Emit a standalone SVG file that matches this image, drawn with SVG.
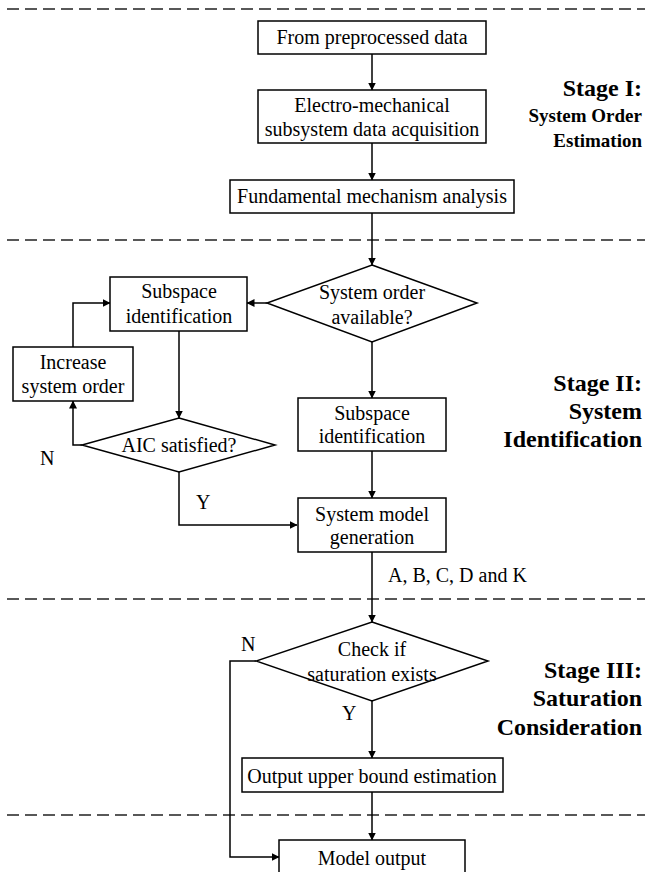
<svg xmlns="http://www.w3.org/2000/svg" width="645" height="872" viewBox="0 0 645 872">
<defs>
<style>
.box{fill:#fff;stroke:#000;stroke-width:1.5}
text{font-family:'Liberation Serif','Times New Roman',Times,'DejaVu Serif',serif;fill:#000}
.t{font-size:20px;text-anchor:middle}
.lbl{font-size:20px}
.stg{font-weight:bold;font-size:24px;text-anchor:end}
.stgs{font-weight:bold;font-size:19px;text-anchor:end}
.dash{stroke:#222;stroke-width:1.6;stroke-dasharray:12 6;fill:none}
.c{stroke:#000;stroke-width:1.5;fill:none}
</style>
<marker id="ah" markerWidth="8" markerHeight="8" refX="7.5" refY="4" orient="auto" markerUnits="userSpaceOnUse">
<path d="M0,0 L8,4 L0,8 Z" fill="#000"/>
</marker>
</defs>
<rect width="645" height="872" fill="#fff"/>

<g id="dividers">
<line class="dash" x1="7" y1="9" x2="645" y2="9"/>
<line class="dash" x1="7" y1="240" x2="645" y2="240"/>
<line class="dash" x1="7" y1="599" x2="645" y2="599"/>
<line class="dash" x1="7" y1="815" x2="645" y2="815"/>
</g>

<g id="connectors">
<line class="c" x1="372" y1="54" x2="372" y2="90" marker-end="url(#ah)"/>
<line class="c" x1="372" y1="143" x2="372" y2="180" marker-end="url(#ah)"/>
<line class="c" x1="372" y1="213" x2="372" y2="265" marker-end="url(#ah)"/>
<line class="c" x1="267" y1="303" x2="247" y2="303" marker-end="url(#ah)"/>
<line class="c" x1="372" y1="342" x2="372" y2="398" marker-end="url(#ah)"/>
<line class="c" x1="372" y1="451" x2="372" y2="498" marker-end="url(#ah)"/>
<line class="c" x1="179" y1="331" x2="179" y2="418" marker-end="url(#ah)"/>
<polyline class="c" points="82,445 73,445 73,401" marker-end="url(#ah)"/>
<polyline class="c" points="73,347 73,303 110,303" marker-end="url(#ah)"/>
<polyline class="c" points="179,472 179,525 297,525" marker-end="url(#ah)"/>
<line class="c" x1="372" y1="552" x2="372" y2="622" marker-end="url(#ah)"/>
<line class="c" x1="372" y1="701" x2="372" y2="758" marker-end="url(#ah)"/>
<line class="c" x1="372" y1="792" x2="372" y2="840" marker-end="url(#ah)"/>
<polyline class="c" points="256,661 230,661 230,857 279,857" marker-end="url(#ah)"/>
<text class="lbl" x="40" y="465">N</text>
<text class="lbl" x="196" y="509">Y</text>
<text class="lbl" x="388" y="582">A, B, C, D and K</text>
<text class="lbl" x="241" y="651">N</text>
<text class="lbl" x="342" y="720">Y</text>
</g>

<g id="n-from">
<rect class="box" x="258" y="21" width="228" height="33"/>
<text class="t" x="372" y="44">From preprocessed data</text>
</g>
<g id="n-electro">
<rect class="box" x="258" y="90" width="228" height="53"/>
<text class="t" x="372" y="112">Electro-mechanical</text>
<text class="t" x="372" y="136">subsystem data acquisition</text>
</g>
<g id="n-fund">
<rect class="box" x="230" y="180" width="284" height="33"/>
<text class="t" x="372" y="203">Fundamental mechanism analysis</text>
</g>
<g id="n-order">
<polygon class="box" points="372,265 477,303 372,342 267,303"/>
<text class="t" x="372" y="299">System order</text>
<text class="t" x="372" y="324">available?</text>
</g>
<g id="n-sub-left">
<rect class="box" x="110" y="277" width="137" height="54"/>
<text class="t" x="179" y="298">Subspace</text>
<text class="t" x="179" y="323">identification</text>
</g>
<g id="n-increase">
<rect class="box" x="13" y="347" width="120" height="54"/>
<text class="t" x="73" y="369">Increase</text>
<text class="t" x="73" y="393">system order</text>
</g>
<g id="n-aic">
<polygon class="box" points="179,418 275,445 179,472 82,445"/>
<text class="t" x="179" y="452">AIC satisfied?</text>
</g>
<g id="n-sub-right">
<rect class="box" x="298" y="398" width="148" height="53"/>
<text class="t" x="372" y="420">Subspace</text>
<text class="t" x="372" y="443">identification</text>
</g>
<g id="n-model">
<rect class="box" x="298" y="498" width="148" height="54"/>
<text class="t" x="372" y="521">System model</text>
<text class="t" x="372" y="544">generation</text>
</g>
<g id="n-sat">
<polygon class="box" points="372,622 488,661 372,701 256,661"/>
<text class="t" x="372" y="656">Check if</text>
<text class="t" x="372" y="681">saturation exists</text>
</g>
<g id="n-upper">
<rect class="box" x="242" y="758" width="261" height="34"/>
<text class="t" x="372" y="783">Output upper bound estimation</text>
</g>
<g id="n-output">
<rect class="box" x="279" y="840" width="186" height="40"/>
<text class="t" x="372" y="865">Model output</text>
</g>

<g id="stage-labels">
<text class="stg" x="642" y="96">Stage I:</text>
<text class="stgs" x="642" y="122">System Order</text>
<text class="stgs" x="642" y="147">Estimation</text>
<text class="stg" x="642" y="391">Stage II:</text>
<text class="stg" x="642" y="419">System</text>
<text class="stg" x="642" y="447">Identification</text>
<text class="stg" x="642" y="678">Stage III:</text>
<text class="stg" x="642" y="706">Saturation</text>
<text class="stg" x="642" y="735">Consideration</text>
</g>
</svg>
